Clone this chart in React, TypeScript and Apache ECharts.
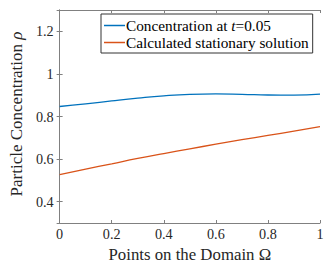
import React, { useEffect, useRef } from "react";
import * as echarts from "echarts";

const xPoints = [0, 0.1, 0.2, 0.3, 0.4, 0.5, 0.6, 0.7, 0.8, 0.9, 1.0];
const concentrationT005 = [0.847, 0.859, 0.873, 0.886, 0.897, 0.904, 0.906, 0.904, 0.901, 0.9, 0.905];
const stationary = [0.527, 0.553, 0.578, 0.603, 0.626, 0.648, 0.67, 0.691, 0.711, 0.731, 0.752];
const seriesNames = ["Concentration at t=0.05", "Calculated stationary solution"];
const xTitle = "Points on the Domain Ω";
const yTitle = "Particle Concentration {i|ρ}";

const FONT = "'Liberation Serif', 'Times New Roman', serif";
const AXIS_COLOR = "#808080";
const TEXT_COLOR = "#262626";

export default function App() {
  const ref = useRef<HTMLDivElement>(null);
  useEffect(() => {
    const chart = echarts.init(ref.current!, null, { renderer: "svg" });
    const axisBase = {
      axisLine: { show: true, lineStyle: { color: AXIS_COLOR, width: 1 } },
      splitLine: { show: false },
    };
    const tick = { show: true, inside: true, length: 3, lineStyle: { color: AXIS_COLOR } };
    const yFormatter = (v: number) => {
      if (Math.abs(v - 0.3) < 1e-6 || Math.abs(v - 1.3) < 1e-6) return "";
      return String(Math.round(v * 10) / 10);
    };
    chart.setOption({
      animation: false,
      backgroundColor: "#fff",
      textStyle: { fontFamily: FONT },
      grid: { left: 50, top: 10, width: 270, height: 213, containLabel: false },
      legend: {
        orient: "vertical",
        left: 101,
        top: 14,
        data: seriesNames,
        backgroundColor: "#fff",
        borderColor: "#333",
        borderWidth: 1,
        borderRadius: 0,
        padding: [4, 4, 3, 3],
        itemGap: 2,
        itemWidth: 21,
        itemHeight: 1.5,
        icon: "rect",
        formatter: (name: string) =>
          name === seriesNames[0] ? "Concentration at {i|t}=0.05" : name,
        textStyle: {
          fontFamily: FONT,
          fontSize: 15.3,
          color: "#000",
          padding: [0, 0, 0, -4],
          rich: { i: { fontFamily: FONT, fontSize: 15.3, fontStyle: "italic", color: "#000" } },
        },
      },
      xAxis: [
        {
          ...axisBase,
          type: "value",
          min: 0,
          max: 1,
          interval: 0.2,
          position: "bottom",
          axisTick: tick,
          axisLabel: {
            fontFamily: FONT,
            fontSize: 14.2,
            color: TEXT_COLOR,
            margin: 4,
            formatter: (v: number) => String(Math.round(v * 10) / 10),
          },
          name: xTitle,
          nameLocation: "middle",
          nameGap: 23,
          nameTextStyle: { fontFamily: FONT, fontSize: 16.8, color: TEXT_COLOR },
        },
        {
          ...axisBase,
          type: "value",
          min: 0,
          max: 1,
          interval: 0.2,
          position: "top",
          axisTick: tick,
          axisLabel: { show: false },
        },
      ],
      yAxis: [
        {
          ...axisBase,
          type: "value",
          min: 0.3,
          max: 1.3,
          splitNumber: 5,
          position: "left",
          axisTick: tick,
          axisLabel: {
            fontFamily: FONT,
            fontSize: 14.2,
            color: TEXT_COLOR,
            margin: 6,
            formatter: yFormatter,
          },
          name: yTitle,
          nameLocation: "middle",
          nameGap: 27,
          nameRotate: 90,
          nameTextStyle: {
            fontFamily: FONT,
            fontSize: 17,
            color: TEXT_COLOR,
            padding: [0, 0, 0, 5],
            rich: { i: { fontFamily: FONT, fontSize: 17, fontStyle: "italic", color: TEXT_COLOR } },
          },
        },
        {
          ...axisBase,
          type: "value",
          min: 0.3,
          max: 1.3,
          splitNumber: 5,
          position: "right",
          axisTick: tick,
          axisLabel: { show: false },
        },
      ],
      series: [
        {
          name: seriesNames[0],
          type: "line",
          smooth: true,
          symbol: "none",
          lineStyle: { color: "#0072BD", width: 1.3 },
          itemStyle: { color: "#0072BD" },
          data: xPoints.map((x, i) => [x, concentrationT005[i]]),
        },
        {
          name: seriesNames[1],
          type: "line",
          smooth: true,
          symbol: "none",
          lineStyle: { color: "#D95319", width: 1.3 },
          itemStyle: { color: "#D95319" },
          data: xPoints.map((x, i) => [x, stationary[i]]),
        },
      ],
    });
    return () => chart.dispose();
  }, []);
  return (
    <div
      ref={ref}
      style={{ position: "fixed", left: 0, top: 0, width: 332, height: 268 }}
    />
  );
}
